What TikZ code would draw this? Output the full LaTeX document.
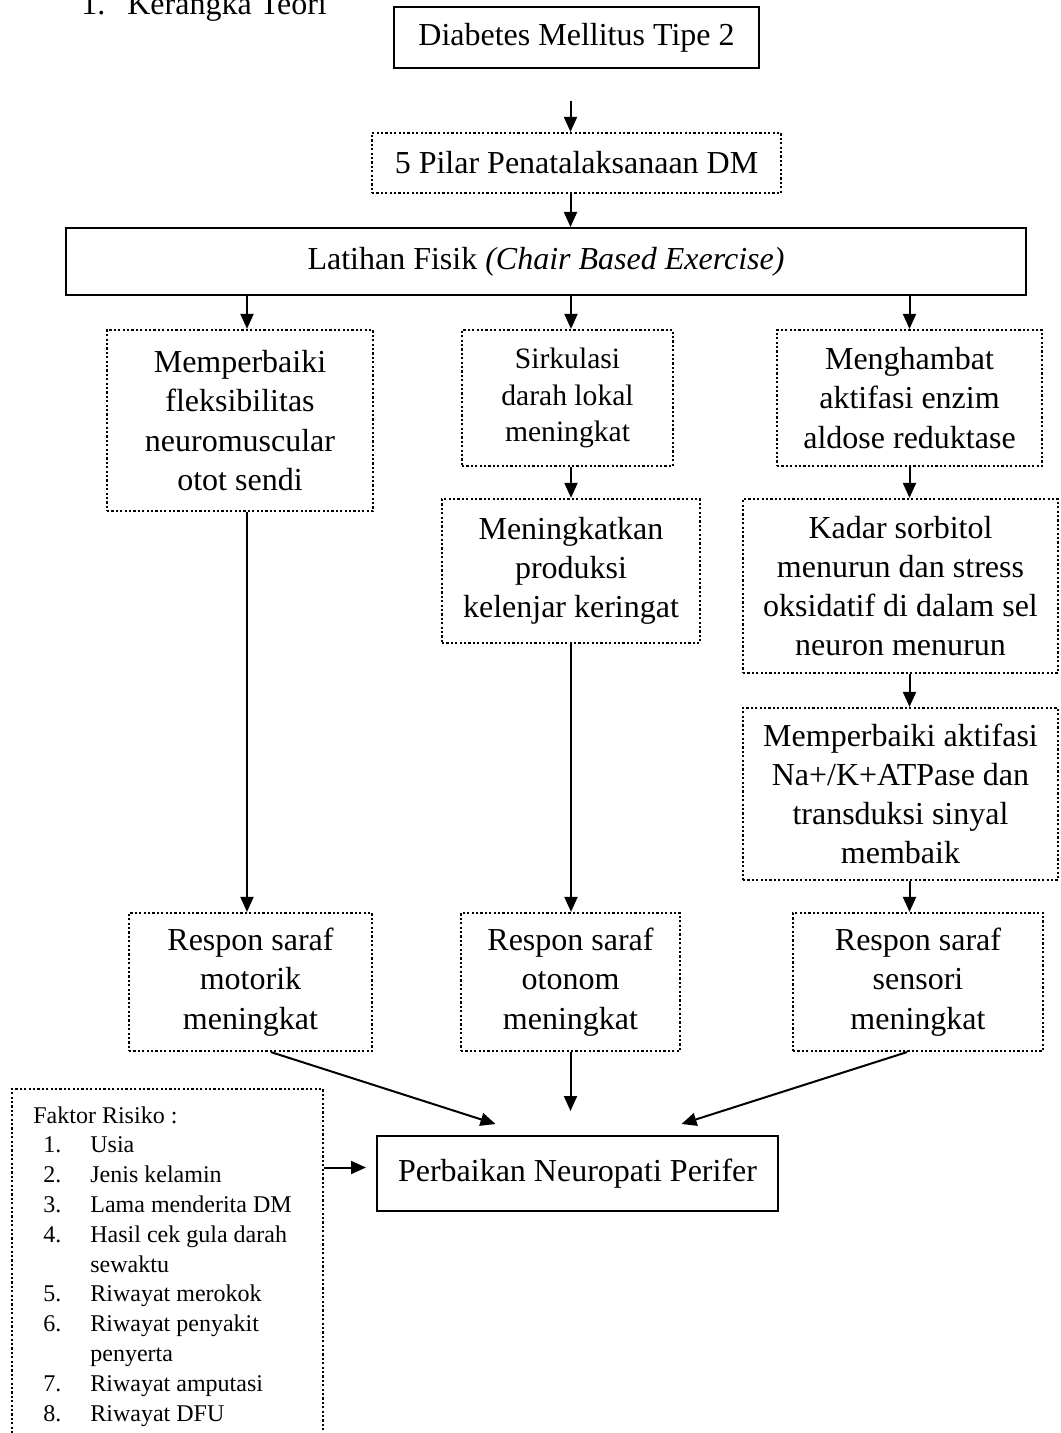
\documentclass[tikz,border=0pt]{standalone}
\usepackage{fontspec}
\setmainfont{Liberation Serif}
\usetikzlibrary{arrows.meta}
\newcommand{\mainsize}{\fontsize{16}{19.6}\selectfont}
\newcommand{\sirksize}{\fontsize{14.8}{18.2}\selectfont}
\newcommand{\listsize}{\fontsize{12}{14.9}\selectfont}

\begin{document}
\begin{tikzpicture}[x=0.5pt, y=-0.5pt,
    solidbox/.style={draw, line width=1pt, inner sep=0pt, align=center, font=\mainsize},
    dotbox/.style={solidbox, line width=1.1pt, dash pattern=on 1.1pt off 1.1pt},
    arr/.style={-{Triangle[length=7.5pt, width=6.5pt]}, line width=1pt}]
  \useasboundingbox (0,0) rectangle (1060,1433);
  \fill[white] (0,0) rectangle (1060,1433);
  \clip (0,0) rectangle (1060,1433);

  % Heading (cut at the top)
  \node[anchor=base west, inner sep=0pt, font=\mainsize] (judul) at (81,14.5)
    {\makebox[23pt][l]{1.}Kerangka Teori};

  % Top chain
  \node[solidbox, minimum width=182.5pt, minimum height=30.5pt] (dm) at (576.5,37.5)
    {Diabetes Mellitus Tipe 2};
  \node[dotbox, minimum width=204.5pt, minimum height=30pt] (pilar) at (576.5,163)
    {5 Pilar Penatalaksanaan DM};
  \node[solidbox, minimum width=480pt, minimum height=33.5pt] (latihan) at (546,261.5)
    {Latihan Fisik \textit{(Chair Based Exercise)}};

  % Left column
  \node[dotbox, minimum width=133pt, minimum height=90.5pt] (fleks) at (240,420.5)
    {Memperbaiki\\fleksibilitas\\neuromuscular\\otot sendi};
  \node[dotbox, minimum width=121.5pt, minimum height=69pt] (motorik) at (250.5,982)
    {Respon saraf\\motorik\\meningkat};

  % Middle column
  \node[dotbox, font=\sirksize, minimum width=105.5pt, minimum height=68pt] (sirk) at (567.5,398)
    {Sirkulasi\\darah lokal\\meningkat};
  \node[dotbox, minimum width=129pt, minimum height=72pt] (keringat) at (571,571)
    {Meningkatkan\\produksi\\kelenjar keringat};
  \node[dotbox, minimum width=109.5pt, minimum height=69pt] (otonom) at (570.5,982)
    {Respon saraf\\otonom\\meningkat};

  % Right column
  \node[dotbox, minimum width=132.5pt, minimum height=68pt] (hambat) at (909.5,398)
    {Menghambat\\aktifasi enzim\\aldose reduktase};
  \node[dotbox, minimum width=157.5pt, minimum height=87pt] (sorbitol) at (900.5,586)
    {Kadar sorbitol\\menurun dan stress\\oksidatif di dalam sel\\neuron menurun};
  \node[dotbox, minimum width=157.5pt, minimum height=86pt] (atpase) at (900.5,794)
    {Memperbaiki aktifasi\\Na+/K+ATPase dan\\transduksi sinyal\\membaik};
  \node[dotbox, minimum width=125pt, minimum height=69pt] (sensori) at (918,982)
    {Respon saraf\\sensori\\meningkat};

  % Outcome
  \node[solidbox, minimum width=200.5pt, minimum height=37.5pt] (perbaikan) at (577.5,1173.5)
    {Perbaikan Neuropati Perifer};

  % Risk factors (box runs off the bottom)
  \node[dotbox, minimum width=155.5pt, minimum height=178pt] (faktor) at (167.5,1267) {};
  \node[anchor=north west, inner sep=0pt, align=left, font=\listsize] (risiko) at (33,1106)
    {Faktor Risiko :\\
     \hspace*{5pt}\makebox[23.5pt][l]{1.}Usia\\
     \hspace*{5pt}\makebox[23.5pt][l]{2.}Jenis kelamin\\
     \hspace*{5pt}\makebox[23.5pt][l]{3.}Lama menderita DM\\
     \hspace*{5pt}\makebox[23.5pt][l]{4.}Hasil cek gula darah\\
     \hspace*{28.5pt}sewaktu\\
     \hspace*{5pt}\makebox[23.5pt][l]{5.}Riwayat merokok\\
     \hspace*{5pt}\makebox[23.5pt][l]{6.}Riwayat penyakit\\
     \hspace*{28.5pt}penyerta\\
     \hspace*{5pt}\makebox[23.5pt][l]{7.}Riwayat amputasi\\
     \hspace*{5pt}\makebox[23.5pt][l]{8.}Riwayat DFU};

  % Arrows
  \draw[arr, shorten <=16pt] ([xshift=-3pt]dm.south) -- ([xshift=-3pt]pilar.north);
  \draw[arr] ([xshift=-3pt]pilar.south) -- ([xshift=-3pt]pilar.south |- latihan.north);
  \draw[arr] ([xshift=3.5pt]fleks.north |- latihan.south) -- ([xshift=3.5pt]fleks.north);
  \draw[arr] ([xshift=1.75pt]sirk.north |- latihan.south) -- ([xshift=1.75pt]sirk.north);
  \draw[arr] (hambat.north |- latihan.south) -- (hambat.north);
  \draw[arr] (sirk.south -| keringat) -- (keringat.north);
  \draw[arr] (hambat.south) -- (hambat.south |- sorbitol.north);
  \draw[arr] (hambat.south |- sorbitol.south) -- (hambat.south |- atpase.north);
  \draw[arr] (hambat.south |- atpase.south) -- (hambat.south |- sensori.north);
  \draw[arr] ([xshift=3.5pt]fleks.south) -- ([xshift=3.5pt]fleks.south |- motorik.north);
  \draw[arr] (keringat.south) -- (keringat.south |- otonom.north);
  \draw[arr] ([xshift=10.25pt]motorik.south) -- ([xshift=-41pt, yshift=5.5pt]perbaikan.north);
  \draw[arr] (otonom.south) -- ([yshift=12pt]otonom.south |- perbaikan.north);
  \draw[arr] ([xshift=-5.5pt]sensori.south) -- ([xshift=52pt, yshift=5.5pt]perbaikan.north);
  \draw[arr, shorten >=5pt] ([yshift=3pt]faktor.east |- perbaikan.west) -- ([yshift=3pt]perbaikan.west);
\end{tikzpicture}
\end{document}
